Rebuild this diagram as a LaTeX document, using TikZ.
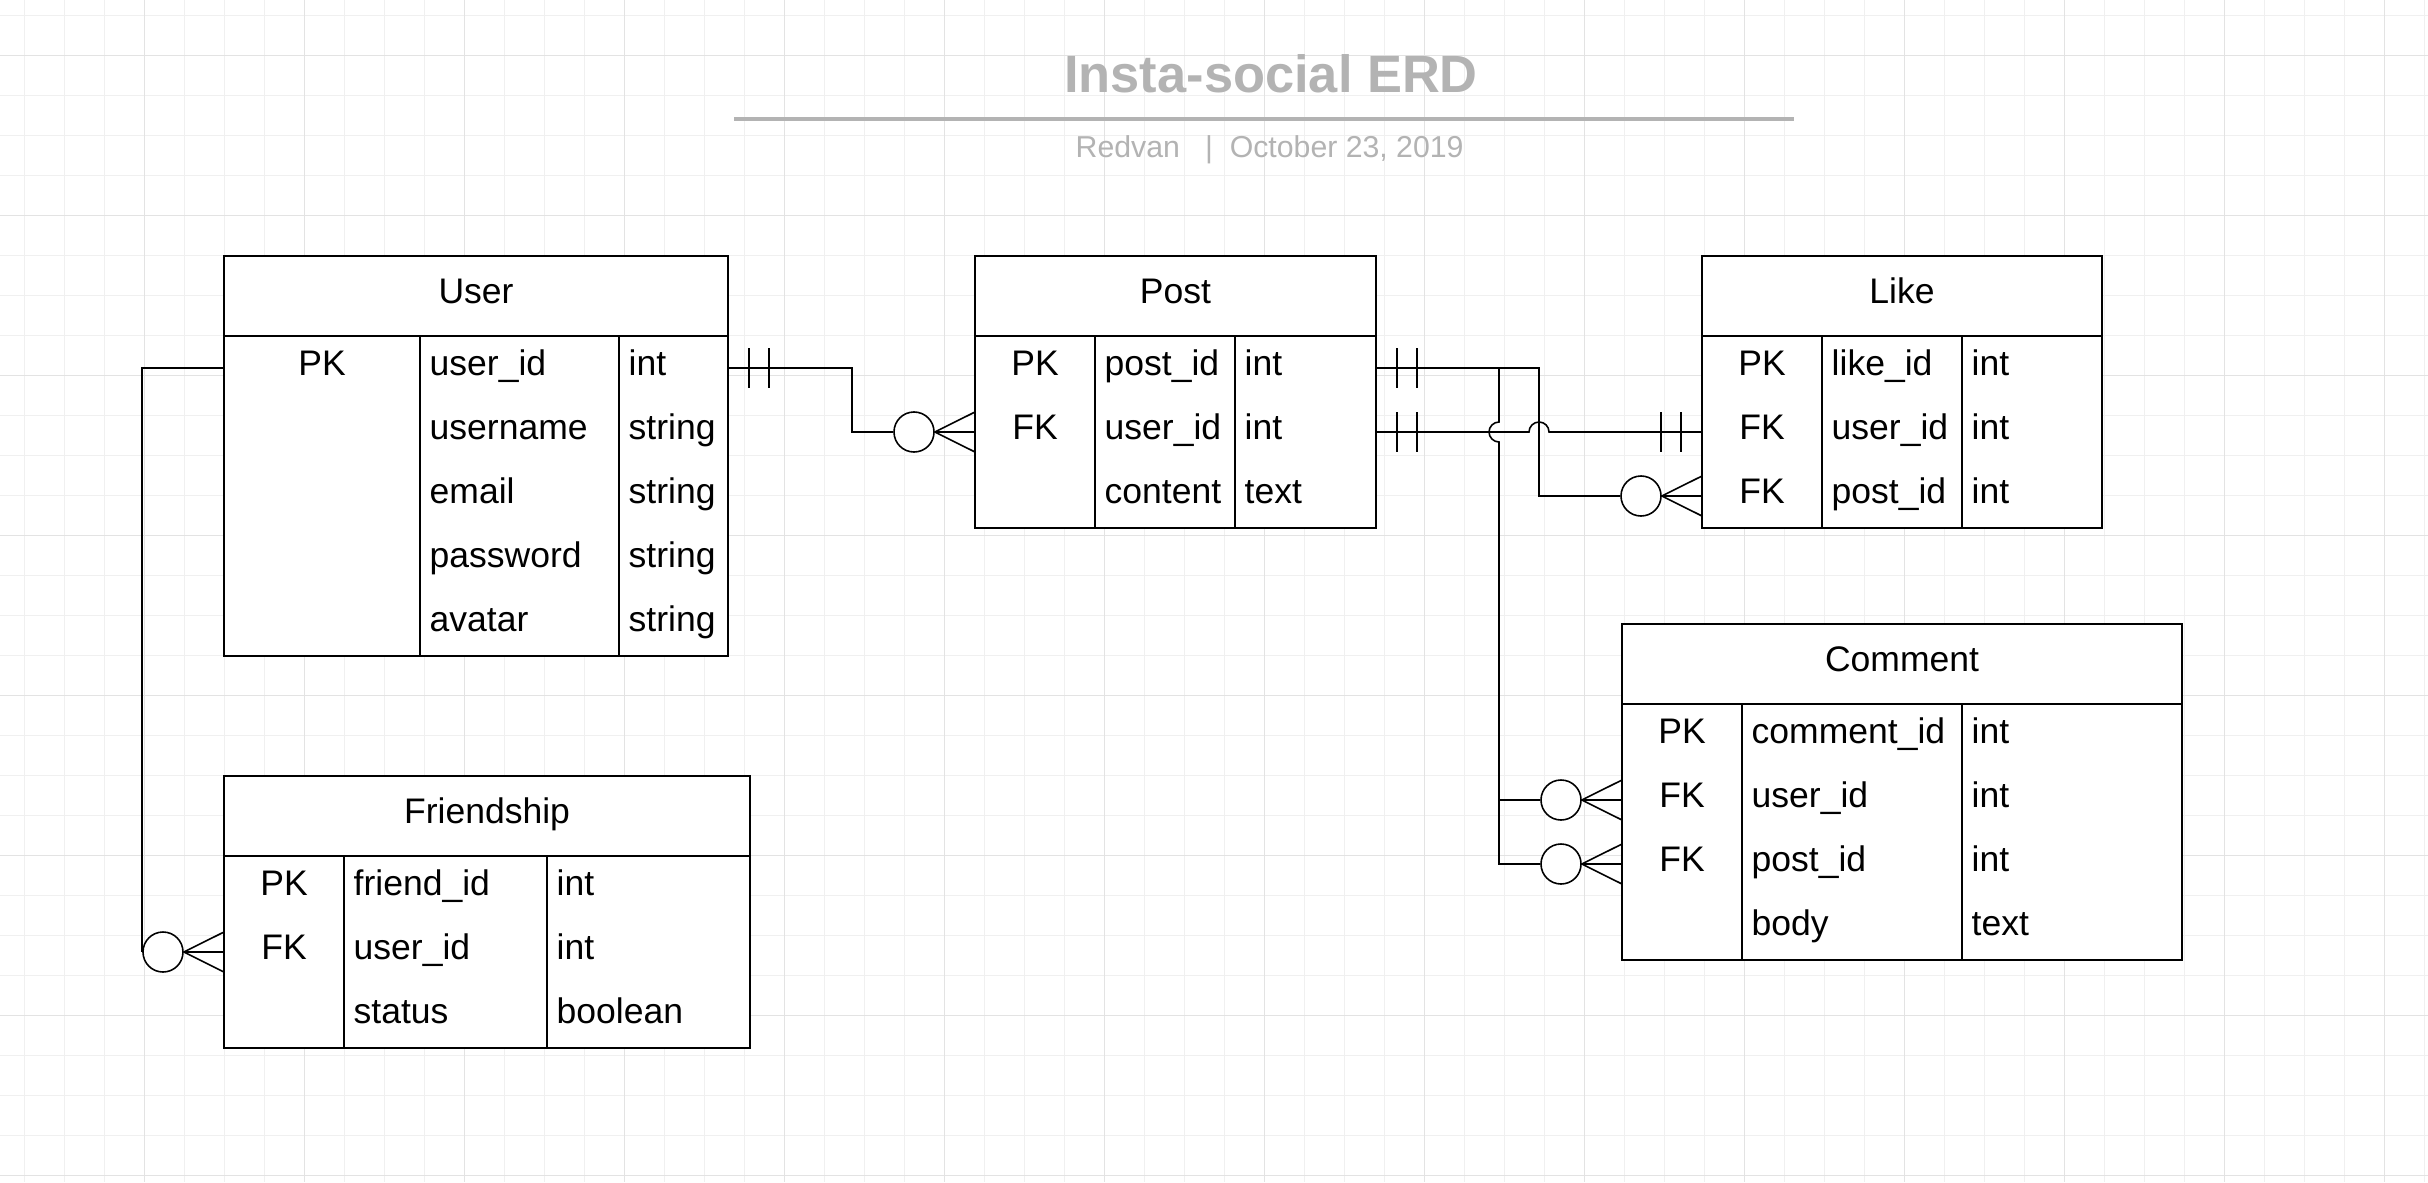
\documentclass[tikz,border=0pt]{standalone}
\usepackage{fontspec}
\setmainfont{Liberation Sans}
\usetikzlibrary{calc}
\definecolor{titlegray}{HTML}{B3B3B3}

\begin{document}
\begin{tikzpicture}[
  x=0.01cm, y=-0.01cm,
  font=\fontsize{10.1}{12}\selectfont,
  gridminor/.style={draw=black!6, line width=0.22pt},
  gridmajor/.style={draw=black!11, line width=0.22pt},
  ent/.style={draw=black, line width=0.45pt},
  rel/.style={draw=black, line width=0.45pt},
  hdr/.style={anchor=base, inner sep=0pt},
  keytxt/.style={anchor=base, inner sep=0pt},
  fieldtxt/.style={anchor=base west, inner sep=0pt},
  zero/.style={circle, draw=black, fill=white, line width=0.45pt,
               minimum size=0.4cm, inner sep=0pt},
  ttl/.style={font=\fontsize{14.9}{18}\selectfont\bfseries, text=titlegray,
              anchor=base, inner sep=0pt},
  byline/.style={font=\fontsize{8.6}{10}\selectfont, text=titlegray,
                 anchor=base west, inner sep=0pt}
]

% page and grid
\fill[white] (0,0) rectangle (2428,1182);
\useasboundingbox (0,0) rectangle (2428,1182);
\foreach \gx in {24,64,...,2424} \draw[gridminor] (\gx,0) -- (\gx,1182);
\foreach \gy in {15,55,...,1175} \draw[gridminor] (0,\gy) -- (2428,\gy);
\foreach \gx in {144,304,...,2384} \draw[gridmajor] (\gx,0) -- (\gx,1182);
\foreach \gy in {55,215,...,1175} \draw[gridmajor] (0,\gy) -- (2428,\gy);

% One entity: header, then key | field | type rows of 64 units.
\newcommand{\erdentity}[9]{%
  % #1 name  #2 left  #3 top  #4 key|field rule  #5 field|type rule
  % #6 right  #7 number of rows  #8 title  #9 rows key/field/type
  \pgfmathsetmacro\erdbot{#3+80+64*#7}
  \draw[ent, fill=white] (#2,#3) rectangle (#6,\erdbot);
  \draw[ent] (#2,#3+80) -- (#6,#3+80)
             (#4,#3+80) -- (#4,\erdbot)
             (#5,#3+80) -- (#5,\erdbot);
  \node[hdr] (#1) at ({(#2+#6)/2},#3+47) {#8};
  \foreach \k/\f/\t [count=\i] in {#9} {
    \coordinate (#1-\i-w) at (#2,#3+48+64*\i);
    \coordinate (#1-\i-e) at (#6,#3+48+64*\i);
    \node[keytxt]   (#1-k\i) at ({(#2+#4)/2},#3+55+64*\i) {\k};
    \node[fieldtxt] (#1-f\i) at (#4+9,#3+55+64*\i) {\f};
    \node[fieldtxt] (#1-t\i) at (#5+9,#3+55+64*\i) {\t};
  }
}

% "exactly one" end: two bars; #2 = 1 to the right, -1 to the left
\newcommand{\barpair}[2]{%
  \foreach \d in {21,41}
    \draw[rel] ($(#1)+(#2*\d,-20)$) -- ++(0,40);
}

% "zero or many" end: crow's foot from the circle into the row
\newcommand{\crowzero}[2]{%
  \draw[rel] (#1.east) -- (#2)
             (#1.east) -- ($(#2)+(0,-20)$)
             (#1.east) -- ($(#2)+(0,20)$);
}

% title block
\node[ttl] (title) at (1271,93) {Insta-social ERD};
\draw[titlegray, line width=0.95pt] (734,119) -- (1794,119);
\node[byline] (byline) at (1075,157) {Redvan\ \ \ |\ \ October 23, 2019};

% entities
\erdentity{user}{224}{256}{420}{619}{728}{5}{User}
  {PK/user\_id/int, {}/username/string, {}/email/string,
   {}/password/string, {}/avatar/string}
\erdentity{post}{975}{256}{1095}{1235}{1376}{3}{Post}
  {PK/post\_id/int, FK/user\_id/int, {}/content/text}
\erdentity{like}{1702}{256}{1822}{1962}{2102}{3}{Like}
  {PK/like\_id/int, FK/user\_id/int, FK/post\_id/int}
\erdentity{comment}{1622}{624}{1742}{1962}{2182}{4}{Comment}
  {PK/comment\_id/int, FK/user\_id/int, FK/post\_id/int, {}/body/text}
\erdentity{friendship}{224}{776}{344}{547}{750}{3}{Friendship}
  {PK/friend\_id/int, FK/user\_id/int, {}/status/boolean}

% zero-or-many circles
\node[zero] (zpost)   at ($(post-2-w)+(-61,0)$) {};
\node[zero] (zlike)   at ($(like-3-w)+(-61,0)$) {};
\node[zero] (zcuser)  at ($(comment-2-w)+(-61,0)$) {};
\node[zero] (zcpost)  at ($(comment-3-w)+(-61,0)$) {};
\node[zero] (zfriend) at ($(friendship-2-w)+(-61,0)$) {};

% User -- Post
\draw[rel] (user-1-e) -- ++(124,0) |- (zpost.west);
\barpair{user-1-e}{1}
\crowzero{zpost}{post-2-w}

% User -- Friendship
\draw[rel] (user-1-w) -| (zfriend.west);
\crowzero{zfriend}{friendship-2-w}

% Post -- Like (user_id), hopping over the post_id line
\draw[rel] (post-2-e) -- ++(153,0)
           arc[start angle=180, end angle=360, radius=10] -- (like-2-w);
\barpair{post-2-e}{1}
\barpair{like-2-w}{-1}

% Post -- Like (post_id)
\draw[rel] (post-1-e) -- ++(163,0) |- (zlike.west);
\barpair{post-1-e}{1}
\crowzero{zlike}{like-3-w}

% Post -- Comment, one trunk for both keys
\coordinate (cbus) at ($(post-1-e)+(123,0)$);
\draw[rel] (post-1-e) -- (cbus) -- ++(0,54)
           arc[start angle=270, end angle=90, radius=10] |- (zcpost.west);
\draw[rel] (cbus |- zcuser.west) -- (zcuser.west);
\crowzero{zcuser}{comment-2-w}
\crowzero{zcpost}{comment-3-w}

\end{tikzpicture}
\end{document}
